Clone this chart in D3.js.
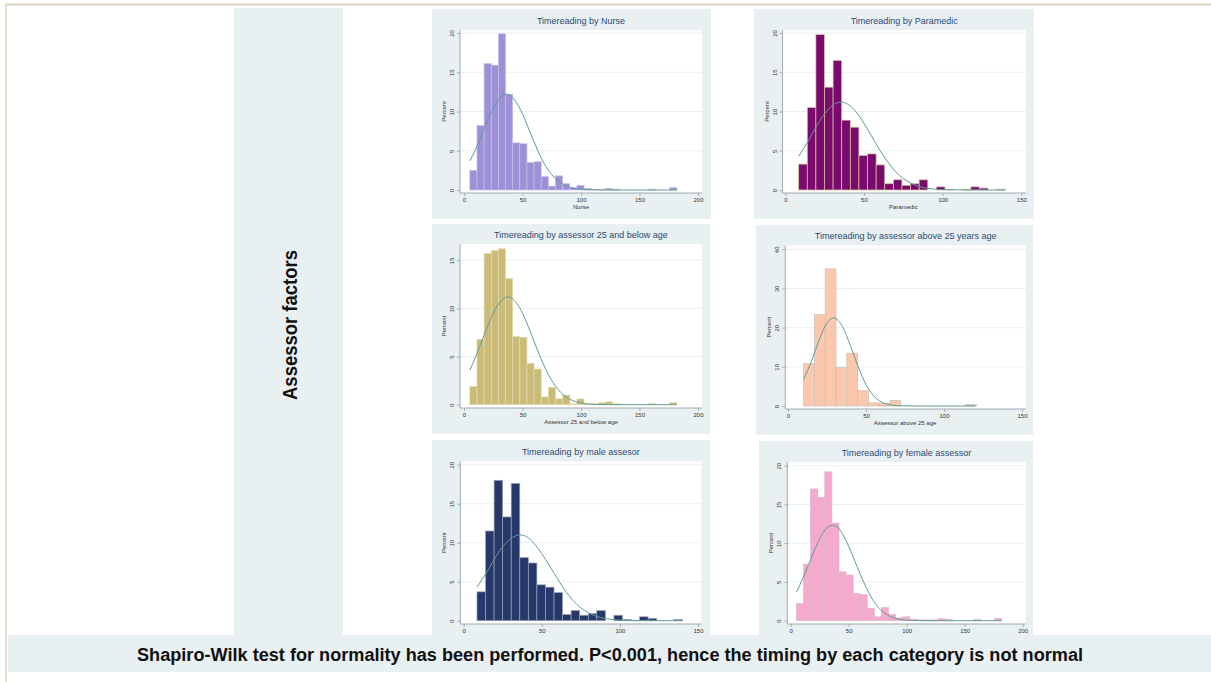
<!DOCTYPE html>
<html>
<head>
<meta charset="utf-8">
<script src="https://cdn.jsdelivr.net/npm/d3@7"></script>
<style>
  body { margin: 0; background: #fff; }
  svg { display: block; }
</style>
</head>
<body>
<svg id="chart"></svg>
<script>
const W = 1211;
const H = 682;

// ---- data ----
const titles = [
  'Timereading by Nurse',
  'Timereading by Paramedic',
  'Timereading by assessor 25 and below age',
  'Timereading by assessor above 25 years age',
  'Timereading by male assesor',
  'Timereading by female assessor'
];
const xLabels = ['Nurse', 'Paramedic', 'Assessor 25 and below age', 'Assessor above 25 age', 'Male assessor', 'Female assessor'];

const xTicks200 = [0, 50, 100, 150, 200];
const xTicks150 = [0, 50, 100, 150];
const yTicks20 = [0, 5, 10, 15, 20];
const yTicks15 = [0, 5, 10, 15];
const yTicks40 = [0, 10, 20, 30, 40];

// histogram bins: first lower edge and width (time units)
const binStart = [5, 8.5, 5, 10, 8.5, 5];
const binWidth = [6.1, 5.47, 6.1, 6.92, 5.48, 6.1];

// percent per bin
const nursePct = [2.5, 8.2, 16.1, 15.9, 19.9, 12.2, 6.0, 5.9, 3.5, 3.6, 1.7, 0.5, 1.8, 0.8, 0.3, 0.6, 0.2, 0.1, 0.1, 0.2, 0.1, 0, 0, 0, 0, 0.1, 0, 0, 0.3];
const paramedicPct = [3.3, 10.5, 19.8, 13.1, 16.5, 8.9, 8.0, 4.4, 4.6, 3.2, 0.8, 1.3, 0.6, 0.8, 1.3, 0, 0.4, 0.1, 0, 0.1, 0.4, 0.25, 0, 0.1];
const under25Pct = [1.9, 6.8, 15.7, 16.0, 16.2, 13.1, 7.1, 7.0, 4.3, 3.7, 0.8, 1.8, 0.6, 1.0, 0.1, 0.6, 0.1, 0.1, 0.2, 0.3, 0.1, 0.05, 0, 0, 0, 0.1, 0, 0, 0.2];
const above25Pct = [10.8, 23.3, 35.0, 9.8, 13.5, 3.9, 0.8, 0.6, 1.4, 0, 0, 0, 0, 0, 0, 0.35];
const malePct = [3.7, 11.5, 18.0, 13.3, 17.6, 8.1, 7.4, 4.6, 4.3, 3.6, 0.8, 1.3, 0.7, 0.9, 1.3, 0, 0.7, 0.15, 0.05, 0.5, 0.3, 0, 0, 0.15];
const femalePct = [2.2, 7.3, 17.0, 15.9, 19.2, 12.6, 6.3, 5.9, 3.5, 3.35, 1.6, 0.5, 1.7, 0.8, 0.35, 0.5, 0.2, 0.1, 0.1, 0.1, 0.25, 0.15, 0, 0, 0, 0.15, 0, 0, 0.3];

// normal density overlay [time, percent]
const nurseCurve = [[5, 3.7], [10, 5.2], [15, 7.0], [20, 8.8], [25, 10.4], [30, 11.6], [36, 12.2], [40, 12.0], [45, 11.1], [50, 9.7], [55, 7.9], [60, 6.1], [65, 4.4], [70, 3.0], [75, 1.95], [80, 1.2], [85, 0.7], [90, 0.38], [100, 0.1], [110, 0.02], [120, 0], [182, 0]];
const paramedicCurve = [[8.5, 4.3], [15, 6.4], [20, 8.2], [25, 9.7], [30, 10.8], [35.5, 11.2], [40, 10.9], [45, 9.95], [50, 8.5], [55, 6.8], [60, 5.1], [65, 3.6], [70, 2.35], [75, 1.45], [80, 0.85], [85, 0.45], [90, 0.22], [100, 0.05], [110, 0.01], [120, 0], [140, 0]];
const under25Curve = [[5, 3.6], [10, 5.0], [15, 6.55], [20, 8.1], [25, 9.5], [30, 10.55], [37.5, 11.2], [45, 10.55], [50, 9.5], [55, 8.1], [60, 6.55], [65, 5.0], [70, 3.65], [75, 2.5], [80, 1.65], [85, 1.0], [90, 0.6], [100, 0.18], [110, 0.04], [120, 0.01], [130, 0], [182, 0]];
const above25Curve = [[10, 6.8], [15, 11.4], [20, 16.9], [25, 21.2], [29.3, 22.5], [35, 20.2], [40, 15.4], [45, 10.0], [50, 5.5], [55, 2.55], [60, 1.0], [65, 0.33], [70, 0.09], [80, 0], [120, 0]];
const maleCurve = [[8.5, 4.3], [15, 6.3], [20, 8.0], [25, 9.5], [30, 10.5], [36, 11.0], [40, 10.8], [45, 9.9], [50, 8.6], [55, 7.0], [60, 5.4], [65, 3.85], [70, 2.6], [75, 1.65], [80, 1.0], [85, 0.55], [90, 0.3], [100, 0.07], [110, 0.01], [120, 0], [140, 0]];
const femaleCurve = [[5, 3.7], [10, 5.3], [15, 7.1], [20, 8.9], [25, 10.6], [30, 11.8], [36, 12.3], [40, 12.1], [45, 11.1], [50, 9.6], [55, 7.8], [60, 6.0], [65, 4.3], [70, 2.9], [75, 1.8], [80, 1.1], [85, 0.6], [90, 0.32], [100, 0.07], [110, 0.01], [120, 0], [182, 0]];

const rowLabel = 'Assessor factors';
const footnote = 'Shapiro-Wilk test for normality has been performed. P<0.001, hence the timing by each category is not normal';

// ---- layout ----
const font = 'Liberation Sans, Arial, sans-serif';
const bgGrey = '#e9f0f2';
const curveColor = '#5f9c99';
const axisColor = '#8e979e';

const panels = [
  { pct: nursePct, curve: nurseCurve, xTicks: xTicks200, yTicks: yTicks20, fill: '#9d90d6', edge: '#c6bfe9',
    bg: [432, 9, 711, 219], plot: [460, 30, 702, 193], xr: [464, 698], yr: [190, 33] },
  { pct: paramedicPct, curve: paramedicCurve, xTicks: xTicks150, yTicks: yTicks20, fill: '#7b0a6f', edge: '#d8c99c',
    bg: [754, 9, 1034, 219], plot: [782.5, 30, 1026, 193], xr: [785.3, 1021.3], yr: [190, 33] },
  { pct: under25Pct, curve: under25Curve, xTicks: xTicks200, yTicks: yTicks15, fill: '#cbbb79', edge: '#e4dbab',
    bg: [432, 224, 710, 434], plot: [460, 244, 702, 408], xr: [464, 698], yr: [404.7, 260.3] },
  { pct: above25Pct, curve: above25Curve, xTicks: xTicks150, yTicks: yTicks40, fill: '#fcc8ad', edge: '#cbbdb5',
    bg: [756, 225, 1033, 435], plot: [785.3, 245.3, 1026, 409], xr: [788, 1022], yr: [406, 249.3] },
  { pct: malePct, curve: maleCurve, xTicks: xTicks150, yTicks: yTicks20, fill: '#26396a', edge: '#9aa3b6',
    bg: [432, 440, 710, 640], plot: [460.3, 461.3, 701.3, 624], xr: [463.7, 698], yr: [620.7, 464.7] },
  { pct: femalePct, curve: femaleCurve, xTicks: xTicks200, yTicks: yTicks20, fill: '#f6a8cd', edge: '#d6b9c6',
    bg: [759, 441, 1033, 640], plot: [787.3, 462, 1025.7, 624], xr: [790.7, 1022.7], yr: [620.7, 465.7] }
];

const svg = d3.select('#chart').attr('width', W).attr('height', H);

// page frame
svg.append('line').attr('x1', 6).attr('x2', W).attr('y1', 4.5).attr('y2', 4.5)
  .attr('stroke', '#ddd5bd').attr('stroke-width', 2);
svg.append('line').attr('x1', 6).attr('x2', 6).attr('y1', 4).attr('y2', H)
  .attr('stroke', '#ddd5bd').attr('stroke-width', 1.5);

// row label column
svg.append('rect').attr('x', 234).attr('y', 8).attr('width', 109).attr('height', 628).attr('fill', bgGrey);
svg.append('text')
  .attr('transform', 'translate(297,325) rotate(-90)')
  .attr('text-anchor', 'middle')
  .attr('font-family', font).attr('font-weight', 'bold').attr('font-size', 20)
  .attr('textLength', 150).attr('lengthAdjust', 'spacingAndGlyphs')
  .attr('fill', '#111')
  .text(rowLabel);

panels.forEach((p, i) => {
  const g = svg.append('g');
  const [bx0, by0, bx1, by1] = p.bg;
  const [px0, py0, px1, py1] = p.plot;

  g.append('rect').attr('x', bx0).attr('y', by0).attr('width', bx1 - bx0).attr('height', by1 - by0).attr('fill', bgGrey);
  g.append('rect').attr('x', px0).attr('y', py0).attr('width', px1 - px0).attr('height', py1 - py0).attr('fill', '#fff');

  const x = d3.scaleLinear().domain(d3.extent(p.xTicks)).range(p.xr);
  const y = d3.scaleLinear().domain(d3.extent(p.yTicks)).range(p.yr);

  // grid
  g.selectAll('.grid').data(p.yTicks.filter(d => d > 0)).enter().append('line')
    .attr('x1', px0).attr('x2', px1)
    .attr('y1', d => y(d)).attr('y2', d => y(d))
    .attr('stroke', '#e3ecef').attr('stroke-width', 0.8);

  // bars
  const bins = p.pct.map((v, k) => ({ x0: binStart[i] + k * binWidth[i], x1: binStart[i] + (k + 1) * binWidth[i], v }))
    .filter(d => d.v > 0);
  g.selectAll('.bar').data(bins).enter().append('rect')
    .attr('x', d => x(d.x0))
    .attr('width', d => x(d.x1) - x(d.x0))
    .attr('y', d => y(d.v))
    .attr('height', d => y(0) - y(d.v))
    .attr('fill', p.fill)
    .attr('stroke', p.edge)
    .attr('stroke-width', 0.7);

  // normal curve
  const line = d3.line().x(d => x(d[0])).y(d => y(d[1])).curve(d3.curveMonotoneX);
  g.append('path').datum(p.curve).attr('d', line)
    .attr('fill', 'none').attr('stroke', curveColor).attr('stroke-width', 1);

  // axes
  const xAxis = g.append('g').attr('transform', `translate(0,${py1})`)
    .call(d3.axisBottom(x).tickValues(p.xTicks).tickSize(3).tickPadding(2));
  const yAxis = g.append('g').attr('transform', `translate(${px0},0)`)
    .call(d3.axisLeft(y).tickValues(p.yTicks).tickSize(3).tickPadding(2));
  [xAxis, yAxis].forEach(a => {
    a.select('.domain').remove();
    a.selectAll('line').attr('stroke', axisColor).attr('stroke-width', 0.7);
    a.selectAll('text').attr('font-family', font).attr('font-size', 6).attr('fill', '#333');
  });
  yAxis.selectAll('text')
    .attr('x', null).attr('dy', null)
    .attr('text-anchor', 'middle')
    .attr('transform', 'translate(-6,0) rotate(-90)');
  g.append('line').attr('x1', px0).attr('x2', px1).attr('y1', py1).attr('y2', py1)
    .attr('stroke', axisColor).attr('stroke-width', 0.8);
  g.append('line').attr('x1', px0).attr('x2', px0).attr('y1', py0).attr('y2', py1)
    .attr('stroke', axisColor).attr('stroke-width', 0.8);

  // labels
  g.append('text')
    .attr('x', (px0 + px1) / 2).attr('y', py0 - 6)
    .attr('text-anchor', 'middle')
    .attr('font-family', font).attr('font-size', 9).attr('fill', '#2c4a72')
    .text(titles[i]);
  g.append('text')
    .attr('x', (p.xr[0] + p.xr[1]) / 2).attr('y', py1 + 16)
    .attr('text-anchor', 'middle')
    .attr('font-family', font).attr('font-size', 6).attr('fill', '#333')
    .text(xLabels[i]);
  g.append('text')
    .attr('transform', `translate(${px0 - 14},${(py0 + py1) / 2}) rotate(-90)`)
    .attr('text-anchor', 'middle')
    .attr('font-family', font).attr('font-size', 6).attr('fill', '#333')
    .text('Percent');
});

// footnote banner
svg.append('rect').attr('x', 8).attr('y', 635).attr('width', W - 8).attr('height', 37).attr('fill', bgGrey);
svg.append('text')
  .attr('x', 610).attr('y', 661)
  .attr('text-anchor', 'middle')
  .attr('font-family', font).attr('font-weight', 'bold').attr('font-size', 18)
  .attr('textLength', 946).attr('lengthAdjust', 'spacingAndGlyphs')
  .attr('fill', '#111')
  .text(footnote);
</script>
</body>
</html>
